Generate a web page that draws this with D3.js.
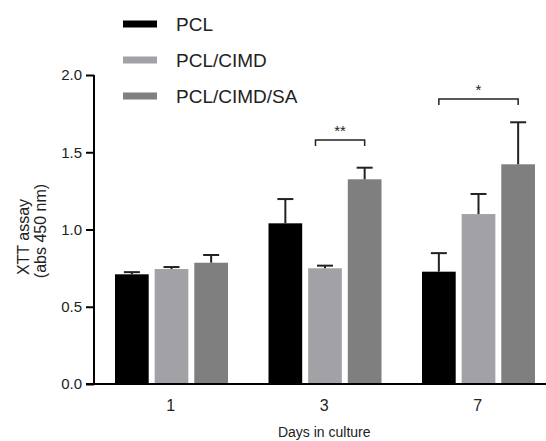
<!DOCTYPE html>
<html>
<head>
<meta charset="utf-8">
<script src="https://cdn.jsdelivr.net/npm/d3@7"></script>
<style>
  html, body { margin: 0; padding: 0; background: #fff; }
  svg { display: block; font-family: "Liberation Sans", Arial, sans-serif; }
</style>
</head>
<body>
<svg id="chart" width="546" height="441"></svg>
<script>
// ---- data ----
const days = ["1", "3", "7"];
const series = ["PCL", "PCL/CIMD", "PCL/CIMD/SA"];
const pclValues      = [0.71, 1.04, 0.727];
const pclErrors      = [0.014, 0.157, 0.12];
const cimdValues     = [0.744, 0.749, 1.10];
const cimdErrors     = [0.013, 0.017, 0.13];
const cimdSaValues   = [0.785, 1.325, 1.422];
const cimdSaErrors   = [0.05, 0.075, 0.272];
const yTicks = [0, 0.5, 1.0, 1.5, 2.0];
const xTitle = "Days in culture";
const yTitle = ["XTT assay", "(abs 450 nm)"];
// significance brackets: day, from/to series index (continuous), height, label
const brackets = [
  { day: "3", from: 0.76, to: 2, y: 1.579, label: "**" },
  { day: "7", from: 0, to: 2, y: 1.845, label: "*" }
];

const colors = ["#000000", "#a2a1a6", "#7f7f7f"];
const valuesBySeries = [pclValues, cimdValues, cimdSaValues];
const errorsBySeries = [pclErrors, cimdErrors, cimdSaErrors];

const svg = d3.select("#chart");
const mLeft = 94, mTop = 75, mBottom = 384, bandRight = 554.5;

const x0 = d3.scaleBand().domain(days).range([mLeft, bandRight]).padding(0);
const x1 = d3.scaleBand().domain(series).range([21, 134]).paddingInner(0.15).paddingOuter(0);
const y = d3.scaleLinear().domain([0, 2]).range([mBottom, mTop]);
const centerIdx = d3.scaleLinear().domain([0, 2])
  .range([x1(series[0]) + x1.bandwidth() / 2, x1(series[2]) + x1.bandwidth() / 2]);

const rows = [];
days.forEach((d, i) => series.forEach((s, j) => rows.push({
  day: d, s, j, v: valuesBySeries[j][i], e: errorsBySeries[j][i]
})));

// bars
const g = svg.append("g");
g.selectAll("rect.bar").data(rows).join("rect")
  .attr("class", "bar")
  .attr("x", d => x0(d.day) + x1(d.s))
  .attr("width", x1.bandwidth())
  .attr("y", d => y(d.v))
  .attr("height", d => y(0) - y(d.v))
  .attr("fill", d => colors[d.j]);

// error bars (upper only)
const eb = g.selectAll("g.err").data(rows).join("g").attr("class", "err")
  .attr("stroke", "#222").attr("stroke-width", 2);
eb.append("line")
  .attr("x1", d => x0(d.day) + x1(d.s) + x1.bandwidth() / 2)
  .attr("x2", d => x0(d.day) + x1(d.s) + x1.bandwidth() / 2)
  .attr("y1", d => y(d.v)).attr("y2", d => y(d.v + d.e));
eb.append("line")
  .attr("x1", d => x0(d.day) + x1(d.s) + x1.bandwidth() / 2 - 8)
  .attr("x2", d => x0(d.day) + x1(d.s) + x1.bandwidth() / 2 + 8)
  .attr("y1", d => y(d.v + d.e)).attr("y2", d => y(d.v + d.e));

// y axis
const yAxis = svg.append("g").attr("transform", `translate(${mLeft},0)`)
  .call(d3.axisLeft(y).tickValues(yTicks).tickFormat(d3.format(".1f")).tickSize(8).tickPadding(4));
yAxis.select(".domain").attr("stroke", "#000").attr("stroke-width", 2).attr("d", `M0,${mTop}V${mBottom}`);
yAxis.selectAll(".tick line").attr("stroke", "#000").attr("stroke-width", 2);
yAxis.selectAll(".tick text").attr("font-size", 15).attr("fill", "#222")
  .attr("font-family", "Liberation Sans, Arial, sans-serif");

// x axis
const xAxis = svg.append("g").attr("transform", `translate(0,${mBottom})`)
  .call(d3.axisBottom(x0).tickSize(0).tickPadding(16));
xAxis.select(".domain").attr("stroke", "#000").attr("stroke-width", 2)
  .attr("d", `M${mLeft - 8},0H${bandRight}`);
xAxis.selectAll(".tick text").attr("font-size", 16).attr("fill", "#222")
  .attr("font-family", "Liberation Sans, Arial, sans-serif");

// axis titles
svg.append("text").attr("x", x0("3") + x0.bandwidth() / 2).attr("y", 437)
  .attr("text-anchor", "middle").attr("font-size", 14).attr("fill", "#222").text(xTitle);
svg.append("text").attr("transform", "translate(29,237) rotate(-90)")
  .attr("text-anchor", "middle").attr("font-size", 16).attr("fill", "#222").text(yTitle[0]);
svg.append("text").attr("transform", "translate(46,231) rotate(-90)")
  .attr("text-anchor", "middle").attr("font-size", 16).attr("fill", "#222").text(yTitle[1]);

// significance brackets
brackets.forEach(b => {
  const xa = x0(b.day) + centerIdx(b.from), xb = x0(b.day) + centerIdx(b.to), yy = y(b.y);
  svg.append("path").attr("d", `M${xa},${yy + 6}V${yy}H${xb}V${yy + 6}`)
    .attr("fill", "none").attr("stroke", "#222").attr("stroke-width", 1.5);
  svg.append("text").attr("x", (xa + xb) / 2).attr("y", yy - 4)
    .attr("text-anchor", "middle").attr("font-size", 15).attr("fill", "#222").text(b.label);
});

// legend
const lg = svg.append("g");
series.forEach((s, j) => {
  const cy = 24 + j * 36;
  lg.append("rect").attr("x", 123).attr("y", cy - 3.5).attr("width", 34).attr("height", 7).attr("fill", colors[j]);
  lg.append("text").attr("x", 176).attr("y", cy + 7).attr("font-size", 19).attr("fill", "#222").text(s);
});
</script>
</body>
</html>
